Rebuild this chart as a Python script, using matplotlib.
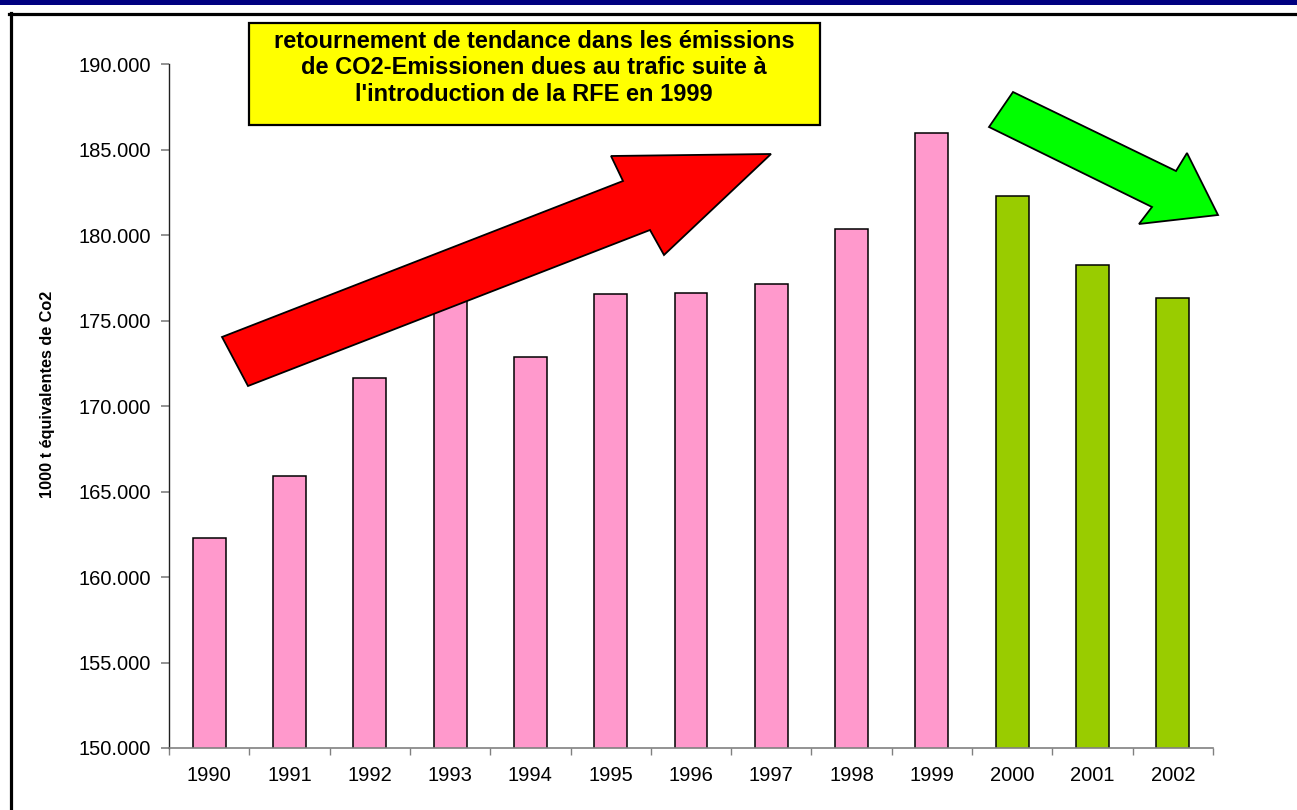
import matplotlib
matplotlib.use("Agg")
import matplotlib.pyplot as plt
from matplotlib.patches import Polygon, Rectangle
from matplotlib.lines import Line2D
from matplotlib.ticker import FixedLocator, FuncFormatter

plt.rcParams["font.family"] = ["Liberation Sans", "DejaVu Sans"]

# Road-traffic CO2 emissions, 1000 t CO2 equivalents
years = ["1990", "1991", "1992", "1993", "1994", "1995", "1996",
         "1997", "1998", "1999", "2000", "2001", "2002"]
emissions = [162300, 165900, 171650, 177500, 172870, 176550, 176650,
             177150, 180400, 186000, 182300, 178250, 176350]
# years after the introduction of the levy are shown in green
after_levy = [False] * 10 + [True] * 3

y_ticks = [150000, 155000, 160000, 165000, 170000, 175000, 180000, 185000, 190000]
y_label = "1000 t équivalentes de Co2"
note = ("retournement de tendance dans les émissions\n"
        "de CO2-Emissionen dues au trafic suite à\n"
        "l'introduction de la RFE en 1999")

W, H = 1297, 810
fig = plt.figure(figsize=(W / 100, H / 100), dpi=100)
fig.patch.set_facecolor("white")


def fx(px):
    return px / W


def fy(py):
    return 1 - py / H


ax = fig.add_axes([fx(169), fy(748), fx(1213) - fx(169), fy(64.5) - fy(748)])

pos = list(range(len(years)))
colors = ["#99CC00" if g else "#FF99CC" for g in after_levy]
ax.bar(pos, emissions, width=0.41, color=colors, edgecolor="black",
       linewidth=1.1, zorder=2)

ax.set_xlim(-0.5, len(years) - 0.5)
ax.set_ylim(y_ticks[0], y_ticks[-1])
ax.set_yticks(y_ticks)
ax.yaxis.set_major_formatter(FuncFormatter(lambda v, _: f"{v:,.0f}".replace(",", ".")))

# ticks at category boundaries, labels at category centres
ax.xaxis.set_major_locator(FixedLocator([p - 0.5 for p in pos] + [pos[-1] + 0.5]))
ax.xaxis.set_minor_locator(FixedLocator(pos))
ax.set_xticklabels([], minor=False)
ax.set_xticklabels(years, minor=True)
ax.tick_params(axis="x", which="major", length=5, width=1, color="#808080",
               direction="out")
ax.tick_params(axis="x", which="minor", length=0, pad=13, labelsize=14.5)
ax.tick_params(axis="y", length=6, width=1.2, color="#808080", direction="out",
               pad=7, labelsize=14.5)

for s in ("top", "right"):
    ax.spines[s].set_visible(False)
ax.spines["left"].set_color("#202020")
ax.spines["left"].set_linewidth(1.0)
ax.spines["bottom"].set_color("#808080")
ax.spines["bottom"].set_linewidth(1.2)

fig.text(fx(48), fy(394), y_label, rotation=90, ha="center", va="center",
         fontsize=11.7, fontweight="bold")

# header band and outer frame
fig.add_artist(Rectangle((0, fy(5)), 1, fy(0) - fy(5), transform=fig.transFigure,
                         facecolor="#000080", edgecolor="none", zorder=1))
fig.add_artist(Line2D([fx(9), 1], [fy(14), fy(14)], transform=fig.transFigure,
                      color="black", linewidth=2.3, zorder=1))
fig.add_artist(Line2D([fx(10.5), fx(10.5)], [fy(13), 0], transform=fig.transFigure,
                      color="black", linewidth=2.3, zorder=1))

# trend arrows
up_arrow = [(222, 337), (623, 181), (611, 156), (771, 154), (664, 255),
            (650, 230), (248, 386)]
down_arrow = [(1013, 92), (1176, 171), (1187, 153), (1218, 215), (1139, 224),
              (1152, 207), (989, 127)]
fig.add_artist(Polygon([(fx(x), fy(y)) for x, y in up_arrow], closed=True,
                       transform=fig.transFigure, facecolor="#FF0000",
                       edgecolor="black", linewidth=1.3, zorder=5))
fig.add_artist(Polygon([(fx(x), fy(y)) for x, y in down_arrow], closed=True,
                       transform=fig.transFigure, facecolor="#00FF00",
                       edgecolor="black", linewidth=1.3, zorder=5))

# annotation box
fig.add_artist(Rectangle((fx(249), fy(125)), fx(820) - fx(249), fy(23) - fy(125),
                         transform=fig.transFigure, facecolor="#FFFF00",
                         edgecolor="black", linewidth=1.6, zorder=6))
fig.text(fx(534), fy(68), note, ha="center", va="center", fontsize=17,
         fontweight="bold", linespacing=1.2, zorder=7)

fig.savefig("out.png", dpi=100, facecolor="white")
